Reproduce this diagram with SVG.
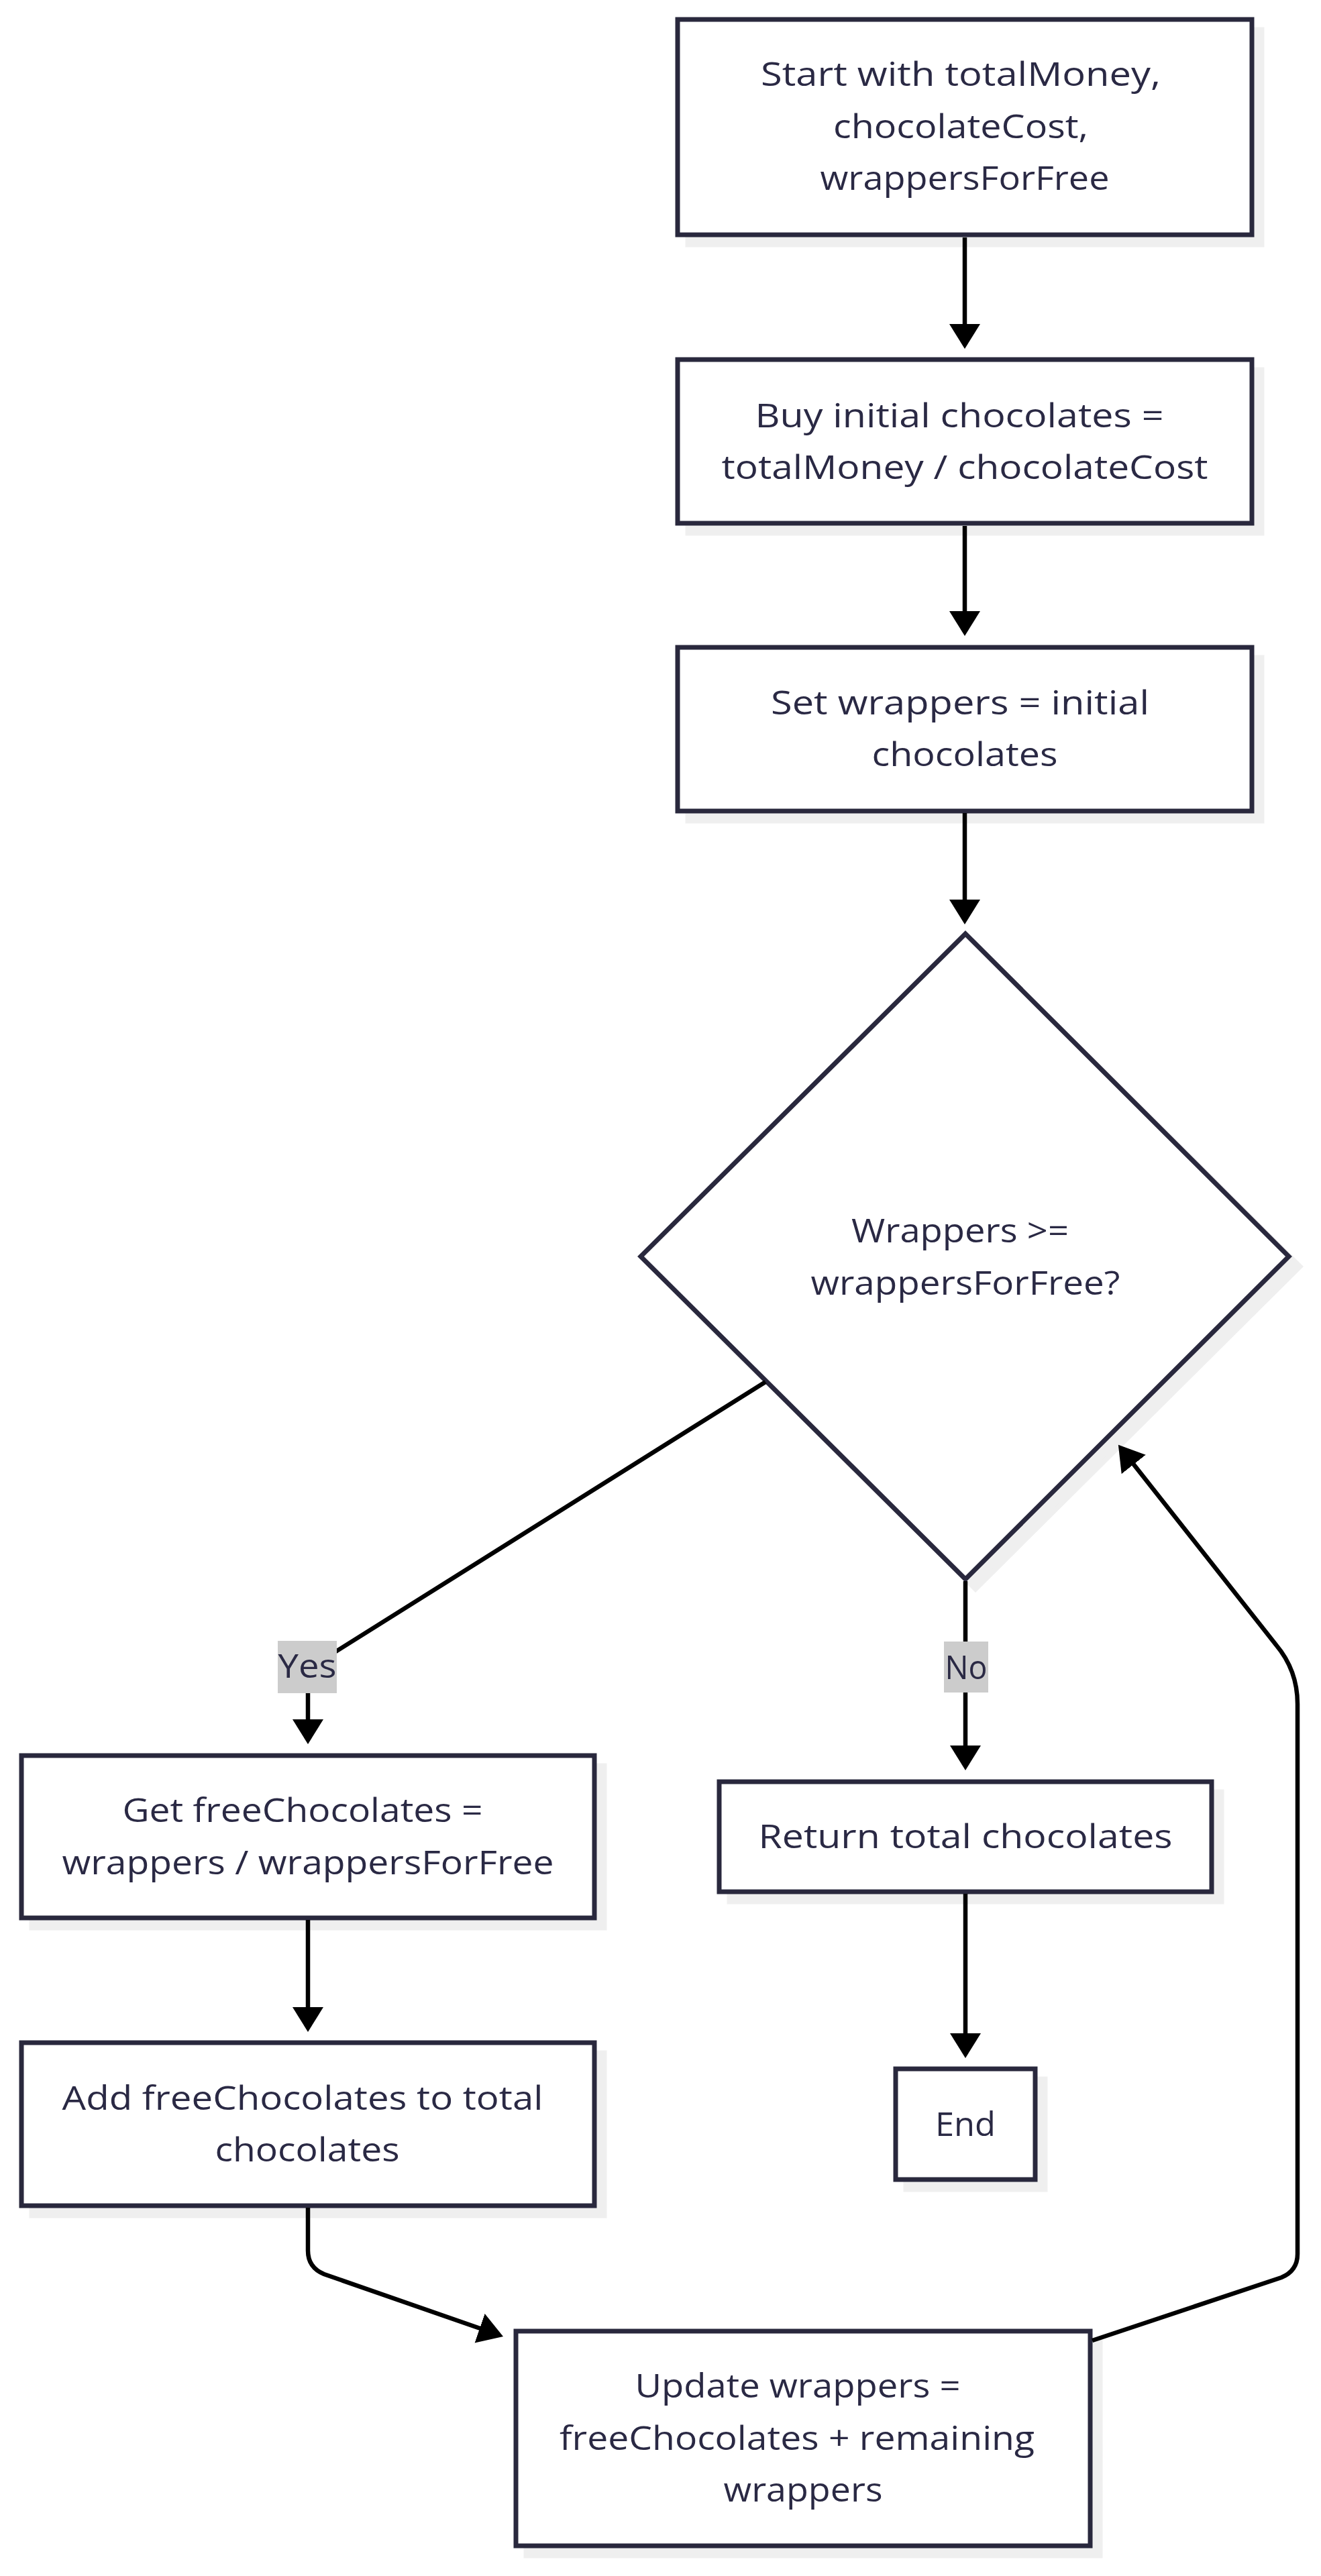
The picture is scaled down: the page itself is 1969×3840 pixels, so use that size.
<svg xmlns="http://www.w3.org/2000/svg" width="1969" height="3840" viewBox="0 0 1969 3840">
<style>
.bg{fill:#ffffff}
.sh{fill:#efefef;stroke:#efefef;stroke-width:7}
.nd{fill:#ffffff;stroke:#29283d;stroke-width:7}
.tx{font-family:"Open Sans","Noto Sans",sans-serif;font-size:50px;fill:#2a2944;text-anchor:middle}
.ed{fill:none;stroke:#000000;stroke-width:6.5}
.lb{fill:#cccccc}
</style>
<defs>
<marker id="ah" markerUnits="userSpaceOnUse" markerWidth="40" markerHeight="48" viewBox="0 0 40 48" refX="19" refY="23" orient="auto">
<path d="M0,0 L37,23 L0,46 Z" fill="#000000"/>
</marker>
</defs>
<rect class="bg" x="0" y="0" width="1969" height="3840"/>

<g id="node-start">
<rect class="sh" x="1025" y="44" width="856" height="321"/>
<rect class="nd" x="1010" y="29" width="856" height="321"/>
<text class="tx" x="1432" y="128" textLength="596" lengthAdjust="spacingAndGlyphs">Start with totalMoney,</text>
<text class="tx" x="1432" y="206" textLength="380" lengthAdjust="spacingAndGlyphs">chocolateCost,</text>
<text class="tx" x="1438" y="283" textLength="431" lengthAdjust="spacingAndGlyphs">wrappersForFree</text>
</g>

<g id="node-buy">
<rect class="sh" x="1025" y="551" width="856" height="244"/>
<rect class="nd" x="1010" y="536" width="856" height="244"/>
<text class="tx" x="1430" y="637" textLength="609" lengthAdjust="spacingAndGlyphs">Buy initial chocolates =</text>
<text class="tx" x="1438" y="714" textLength="725" lengthAdjust="spacingAndGlyphs">totalMoney / chocolateCost</text>
</g>

<g id="node-set">
<rect class="sh" x="1025" y="980" width="856" height="244"/>
<rect class="nd" x="1010" y="965" width="856" height="244"/>
<text class="tx" x="1431" y="1065" textLength="564" lengthAdjust="spacingAndGlyphs">Set wrappers = initial</text>
<text class="tx" x="1438" y="1142" textLength="277" lengthAdjust="spacingAndGlyphs">chocolates</text>
</g>

<g id="node-decision">
<polygon class="sh" points="1454,1407 1938,1888 1454,2369 970,1888"/>
<polygon class="nd" points="1439,1392 1921,1873 1439,2354 955,1873"/>
<text class="tx" x="1431" y="1852" textLength="324" lengthAdjust="spacingAndGlyphs">Wrappers &gt;=</text>
<text class="tx" x="1439" y="1930" textLength="461" lengthAdjust="spacingAndGlyphs">wrappersForFree?</text>
</g>

<g id="node-get">
<rect class="sh" x="47" y="2632" width="854" height="242"/>
<rect class="nd" x="32" y="2617" width="854" height="242"/>
<text class="tx" x="451" y="2716" textLength="537" lengthAdjust="spacingAndGlyphs">Get freeChocolates =</text>
<text class="tx" x="459" y="2794" textLength="733" lengthAdjust="spacingAndGlyphs">wrappers / wrappersForFree</text>
</g>

<g id="node-add">
<rect class="sh" x="47" y="3060" width="854" height="243"/>
<rect class="nd" x="32" y="3045" width="854" height="243"/>
<text class="tx" x="451" y="3145" textLength="717" lengthAdjust="spacingAndGlyphs">Add freeChocolates to total</text>
<text class="tx" x="458" y="3222" textLength="275" lengthAdjust="spacingAndGlyphs">chocolates</text>
</g>

<g id="node-update">
<rect class="sh" x="784" y="3490" width="856" height="320"/>
<rect class="nd" x="769" y="3475" width="856" height="320"/>
<text class="tx" x="1189" y="3574" textLength="485" lengthAdjust="spacingAndGlyphs">Update wrappers =</text>
<text class="tx" x="1188" y="3652" textLength="708" lengthAdjust="spacingAndGlyphs">freeChocolates + remaining</text>
<text class="tx" x="1197" y="3729" textLength="237" lengthAdjust="spacingAndGlyphs">wrappers</text>
</g>

<g id="node-return">
<rect class="sh" x="1087" y="2671" width="734" height="164"/>
<rect class="nd" x="1072" y="2656" width="734" height="164"/>
<text class="tx" x="1439" y="2755" textLength="617" lengthAdjust="spacingAndGlyphs">Return total chocolates</text>
</g>

<g id="node-end">
<rect class="sh" x="1350" y="3099" width="208" height="165"/>
<rect class="nd" x="1335" y="3084" width="208" height="165"/>
<text class="tx" x="1439" y="3184" textLength="90" lengthAdjust="spacingAndGlyphs">End</text>
</g>

<g id="edges">
<path class="ed" d="M1438,354 L1438,502" marker-end="url(#ah)"/>
<path class="ed" d="M1438,784 L1438,930" marker-end="url(#ah)"/>
<path class="ed" d="M1438,1212 L1438,1360" marker-end="url(#ah)"/>
<path class="ed" d="M1141,2060 L459,2488 L459,2582" marker-end="url(#ah)"/>
<path class="ed" d="M1439,2357 L1439,2621" marker-end="url(#ah)"/>
<path class="ed" d="M459,2862 L459,3011" marker-end="url(#ah)"/>
<path class="ed" d="M1439,2823 L1439,3050" marker-end="url(#ah)"/>
<path class="ed" d="M459,3291 L459,3355 Q459,3380 483,3390 L733,3477" marker-end="url(#ah)"/>
<path class="ed" d="M1628,3489 L1910,3395 Q1934,3385 1934,3360 L1934,2540 Q1934,2490 1902,2452 L1678,2168" marker-end="url(#ah)"/>
</g>

<g id="edge-labels">
<rect class="lb" x="414" y="2446" width="88" height="78"/>
<text class="tx" x="458" y="2501" textLength="87" lengthAdjust="spacingAndGlyphs">Yes</text>
<rect class="lb" x="1407" y="2447" width="66" height="76"/>
<text class="tx" x="1440" y="2503" textLength="63" lengthAdjust="spacingAndGlyphs">No</text>
</g>
</svg>
